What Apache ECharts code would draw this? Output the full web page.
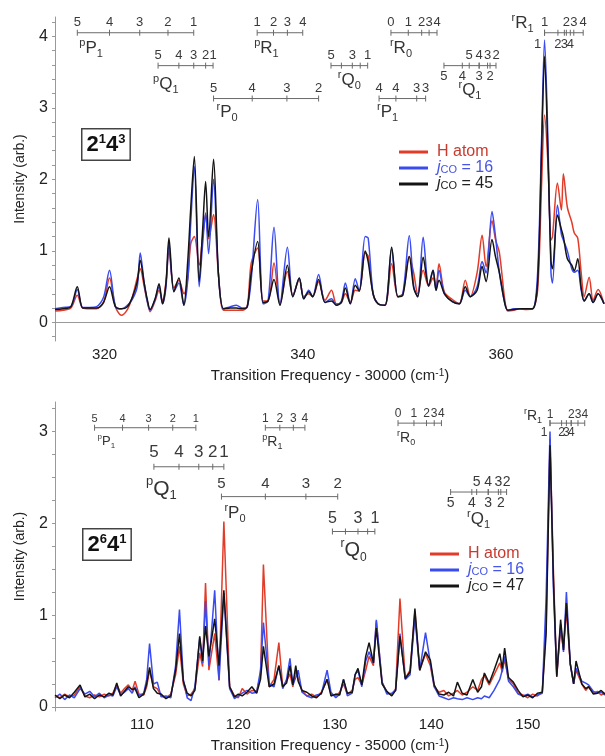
<!DOCTYPE html>
<html><head><meta charset="utf-8">
<script src="https://cdn.jsdelivr.net/npm/echarts@6/dist/echarts.min.js"></script>
<style>html,body{margin:0;padding:0;background:#fff}#c{width:605px;height:756px}</style>
</head><body><div id="c"></div><script>
// ================= DATA =================
// Upper panel (2^1 4^3): frequency - 30000 cm-1
const topFreq = [315.0,315.8,316.6,317.25,317.8,318.5,319.2,319.9,320.5,321.1,
 321.7,322.3,322.8,323.3,323.6,324.0,324.3,324.6,325.1,325.5,
 325.85,326.2,326.5,327.0,327.5,328.0,328.4,328.7,329.06,329.55,
 329.9,330.2,330.5,331.0,331.5,332.0,332.7,333.3,333.9,334.4,
 334.8,335.45,336.0,336.5,337.1,337.7,338.45,339.0,339.65,340.1,
 340.6,341.0,341.6,342.25,342.9,343.4,343.9,344.3,344.8,345.3,
 345.7,346.3,346.6,347.1,347.6,348.3,348.97,349.6,350.1,350.75,
 351.2,351.6,352.15,352.7,353.15,353.45,353.75,354.3,355.1,355.8,
 356.4,356.9,357.6,358.1,358.5,359.1,359.45,359.85,360.4,360.7,
 361.3,361.9,362.6,363.2,363.7,364.1,364.4,364.75,365.05,365.2,
 365.7,366.1,366.3,366.7,367.15,367.4,367.75,368.1,368.4,368.9,
 369.3,369.8,370.4];
const topH = [0.16,0.17,0.20,0.38,0.20,0.19,0.19,0.28,0.62,0.22,
 0.10,0.18,0.35,0.62,0.75,0.50,0.30,0.15,0.30,0.45,
 0.30,0.57,1.00,0.48,0.59,0.40,0.62,1.10,1.20,0.80,
 1.20,1.51,1.17,1.51,0.66,0.17,0.17,0.17,0.17,0.22,
 0.83,1.04,0.30,0.30,0.83,0.26,0.71,0.38,0.60,0.36,
 0.40,0.36,0.57,0.31,0.45,0.26,0.28,0.40,0.28,0.45,
 0.44,0.97,0.93,0.40,0.26,0.24,0.82,0.36,0.40,0.92,
 0.69,0.40,0.73,0.51,0.62,0.50,0.82,0.42,0.32,0.26,
 0.59,0.36,0.70,1.22,0.78,1.42,1.16,0.97,0.30,0.16,
 0.17,0.19,0.18,0.19,0.45,1.92,2.90,2.20,1.15,1.20,
 1.95,1.57,2.08,1.61,1.40,1.25,1.18,0.69,0.36,0.63,
 0.31,0.46,0.26];
const topJ16 = [0.19,0.21,0.22,0.46,0.21,0.21,0.22,0.35,0.73,0.22,
 0.19,0.24,0.32,0.50,0.97,0.55,0.30,0.17,0.32,0.50,
 0.26,0.50,1.10,0.43,0.55,0.24,0.60,1.40,2.18,0.50,
 1.10,1.53,0.96,2.00,0.66,0.19,0.22,0.24,0.20,0.22,
 0.60,1.72,0.26,0.30,1.33,0.24,1.05,0.36,0.62,0.33,
 0.45,0.36,0.67,0.28,0.33,0.24,0.30,0.55,0.26,0.61,
 0.44,1.20,1.18,0.40,0.26,0.24,1.03,0.36,0.40,1.21,
 0.50,0.36,1.19,0.51,0.73,0.45,0.73,0.40,0.29,0.26,
 0.45,0.36,0.50,0.85,0.69,1.55,1.20,0.69,0.26,0.17,
 0.19,0.19,0.19,0.19,0.69,2.55,3.95,2.50,0.69,0.55,
 1.64,1.23,1.15,1.00,0.75,0.70,0.73,0.45,0.30,0.40,
 0.28,0.40,0.26];
const topJ45 = [0.18,0.19,0.22,0.50,0.20,0.20,0.20,0.28,0.50,0.22,
 0.19,0.22,0.35,0.57,0.87,0.55,0.33,0.18,0.33,0.54,
 0.26,0.55,1.18,0.43,0.62,0.24,0.87,1.60,2.32,0.57,
 1.30,1.97,1.20,2.28,0.66,0.19,0.20,0.20,0.19,0.22,
 0.69,1.13,0.28,0.30,0.60,0.24,0.80,0.36,0.62,0.33,
 0.43,0.36,0.60,0.28,0.30,0.24,0.28,0.48,0.26,0.52,
 0.44,1.00,0.85,0.40,0.26,0.24,1.05,0.36,0.38,0.92,
 0.48,0.36,0.91,0.51,0.73,0.45,0.59,0.40,0.29,0.26,
 0.50,0.36,0.45,0.78,0.57,1.16,0.92,0.69,0.26,0.17,
 0.18,0.19,0.19,0.19,0.55,2.40,3.72,2.30,0.85,0.75,
 1.50,1.30,1.20,0.89,0.80,0.72,0.89,0.48,0.30,0.40,
 0.28,0.40,0.26];

// Lower panel (2^6 4^1): frequency - 35000 cm-1
const botFreq = [101.0,101.5,102.0,102.5,103.0,103.6,104.1,104.6,105.1,105.6,
 106.1,106.6,107.0,107.4,107.8,108.2,108.6,109.0,109.3,109.7,
 110.2,110.5,110.8,111.2,111.6,112.0,112.5,113.0,113.5,113.9,
 114.3,114.7,115.1,115.5,116.0,116.3,116.6,116.95,117.55,118.0,
 118.5,119.1,119.6,120.0,120.4,120.9,121.4,121.9,122.3,122.6,
 123.2,123.7,124.2,124.6,125.0,125.35,125.65,125.95,126.2,126.6,
 127.1,127.6,128.1,128.6,129.2,129.6,130.1,130.5,130.9,131.3,
 131.8,132.1,132.4,132.8,133.2,133.55,134.0,134.3,134.9,135.4,
 135.9,136.3,136.75,137.3,137.8,138.3,138.8,139.4,139.9,140.3,
 140.8,141.3,141.8,142.3,142.7,143.2,143.7,144.3,144.8,145.2,
 145.5,146.0,146.5,147.1,147.35,147.6,148.0,148.5,149.0,149.5,
 150.0,150.5,151.0,151.5,151.9,152.3,152.65,153.0,153.4,153.7,
 154.0,154.4,154.75,155.0,155.6,156.0,156.3,156.8,157.2,157.6,
 158.0];
const botH = [0.12,0.10,0.14,0.11,0.13,0.22,0.12,0.10,0.13,0.11,
 0.14,0.12,0.15,0.24,0.15,0.20,0.24,0.18,0.28,0.14,
 0.13,0.22,0.40,0.22,0.20,0.12,0.10,0.14,0.35,0.66,
 0.25,0.12,0.14,0.20,0.59,0.44,1.35,0.40,0.80,0.29,
 2.02,0.22,0.12,0.10,0.20,0.14,0.18,0.17,0.35,1.55,
 0.22,0.30,0.70,0.22,0.28,0.36,0.22,0.40,0.30,0.18,
 0.12,0.14,0.11,0.16,0.30,0.14,0.12,0.16,0.25,0.14,
 0.18,0.30,0.32,0.24,0.40,0.55,0.45,0.93,0.27,0.16,
 0.13,0.20,1.18,0.31,0.40,1.04,0.40,0.58,0.45,0.22,
 0.16,0.18,0.12,0.15,0.18,0.13,0.16,0.22,0.18,0.30,
 0.34,0.24,0.35,0.48,0.38,0.52,0.30,0.25,0.15,0.13,
 0.10,0.14,0.12,0.16,0.90,2.92,1.50,0.33,0.85,0.62,
 1.06,0.47,0.25,0.40,0.25,0.18,0.22,0.15,0.17,0.13,
 0.15];
const botJ16 = [0.10,0.14,0.08,0.13,0.10,0.20,0.14,0.17,0.11,0.15,
 0.10,0.13,0.12,0.22,0.13,0.16,0.20,0.15,0.22,0.12,
 0.15,0.30,0.69,0.25,0.27,0.11,0.12,0.10,0.45,1.06,
 0.30,0.10,0.07,0.22,0.75,0.48,1.15,0.45,1.27,0.29,
 1.24,0.20,0.09,0.12,0.15,0.18,0.15,0.16,0.40,0.92,
 0.25,0.22,0.45,0.20,0.30,0.53,0.24,0.32,0.40,0.16,
 0.12,0.10,0.13,0.14,0.40,0.16,0.10,0.14,0.30,0.12,
 0.15,0.35,0.40,0.22,0.50,0.60,0.48,0.95,0.27,0.14,
 0.15,0.18,0.80,0.30,0.35,0.98,0.40,0.81,0.48,0.22,
 0.12,0.10,0.08,0.10,0.09,0.08,0.10,0.08,0.10,0.09,
 0.12,0.10,0.18,0.30,0.40,0.55,0.28,0.22,0.14,0.12,
 0.14,0.11,0.13,0.15,1.20,3.00,1.30,0.35,0.90,0.60,
 1.25,0.47,0.25,0.42,0.28,0.26,0.24,0.17,0.15,0.16,
 0.13];
const botJ47 = [0.13,0.09,0.13,0.10,0.16,0.24,0.11,0.14,0.09,0.13,
 0.11,0.15,0.13,0.26,0.12,0.17,0.22,0.19,0.20,0.10,
 0.14,0.25,0.43,0.20,0.15,0.14,0.09,0.12,0.40,0.80,
 0.28,0.15,0.12,0.18,0.77,0.50,0.88,0.55,0.96,0.45,
 1.27,0.22,0.11,0.14,0.12,0.16,0.22,0.15,0.30,0.66,
 0.22,0.25,0.45,0.22,0.26,0.45,0.24,0.45,0.28,0.18,
 0.16,0.12,0.10,0.15,0.30,0.12,0.14,0.13,0.30,0.15,
 0.16,0.35,0.42,0.24,0.55,0.70,0.48,0.86,0.25,0.17,
 0.12,0.18,0.77,0.31,0.38,1.07,0.40,0.60,0.51,0.24,
 0.14,0.13,0.16,0.12,0.27,0.15,0.13,0.30,0.16,0.22,
 0.37,0.26,0.40,0.58,0.42,0.64,0.32,0.27,0.18,0.11,
 0.13,0.10,0.15,0.16,0.80,2.85,1.40,0.33,0.95,0.62,
 1.13,0.47,0.25,0.50,0.25,0.20,0.22,0.14,0.15,0.18,
 0.14];

// Axis tick labels
const topXLabels = [320, 340, 360];
const botXLabels = [110, 120, 130, 140, 150];
const topYLabels = [0, 1, 2, 3, 4];
const botYLabels = [0, 1, 2, 3];
const topYTicks = [-0.2,0,0.2,0.4,0.6,0.8,1,1.2,1.4,1.6,1.8,2,2.2,2.4,2.6,2.8,3,3.2,3.4,3.6,3.8,4,4.2];
const botYTicks = [0,0.25,0.5,0.75,1,1.25,1.5,1.75,2,2.25,2.5,2.75,3,3.25];

// Rotational branch assignments (line positions, cm-1 offsets) and their J labels
const T_pP1 = [317.25, 320.5, 323.55, 326.4, 329.0],   T_pP1_J = ['5','4','3','2','1'];
const T_pR1 = [335.4, 337.05, 338.45, 340.0],          T_pR1_J = ['1','2','3','4'];
const T_rR0 = [348.9, 350.65, 352.0, 352.75, 353.55],  T_rR0_J = ['0','1','2','3','4'];
const T_rR1a = [364.4, 366.6, 367.35, 368.3],          T_rR1a_J = ['1','2','3','4'];
const T_rR1b = [364.4, 365.75, 366.4, 367.0],          T_rR1b_J = ['1','2','3','4'];
const T_pQ1 = [325.4, 327.5, 329.0, 330.2, 330.95],    T_pQ1_J = ['5','4','3','2','1'];
const T_rQ0 = [342.85, 343.9, 345.0, 345.8, 346.55],   T_rQ0_J = ['5','','3','','1'];
const T_rQ1a = [356.8, 357.8, 358.65, 359.5],          T_rQ1a_J = ['5','4','3','2'];
const T_rQ1b = [354.25, 356.1, 357.8, 358.9],          T_rQ1b_J = ['5','4','3','2'];
const T_rP0 = [331.0, 334.9, 338.4, 341.6],            T_rP0_J = ['5','4','3','2'];
const T_rP1 = [347.7, 349.4, 351.5, 352.4],            T_rP1_J = ['4','4','3','3'];

const B_pP1 = [105.1, 108.0, 110.7, 113.2, 115.6],     B_pP1_J = ['5','4','3','2','1'];
const B_pR1 = [122.8, 124.3, 125.7, 126.9],            B_pR1_J = ['1','2','3','4'];
const B_rR0 = [136.55, 138.2, 139.5, 140.3, 141.05],   B_rR0_J = ['0','1','2','3','4'];
const B_rR1a = [152.3, 154.5, 155.2, 155.9],           B_rR1a_J = ['1','2','3','4'];
const B_rR1b = [152.3, 153.5, 154.0, 154.5],           B_rR1b_J = ['1','2','3','4'];
const B_pQ1 = [111.25, 113.85, 115.9, 117.35, 118.5],  B_pQ1_J = ['5','4','3','2','1'];
const B_rP0 = [118.25, 122.8, 127.0, 130.3],           B_rP0_J = ['5','4','3','2'];
const B_rQ0 = [129.75, 131.1, 132.4, 133.4, 134.15],   B_rQ0_J = ['5','','3','','1'];
const B_rQ1a = [144.7, 145.9, 146.95, 147.8],          B_rQ1a_J = ['5','4','3','2'];
const B_rQ1b = [142.0, 144.2, 145.9, 147.2],           B_rQ1b_J = ['5','4','3','2'];

// ================= LAYOUT / STYLE =================
const FONT = '"Liberation Sans", Arial, Helvetica, sans-serif';
const INK = '#333', COMB = '#6a6a6a';
const C_H = '#e23b28', C_16 = '#3a4bef', C_K = '#141414';
const T_H = '#c93a2e', T_16 = '#4655e6', T_K = '#222';

function pairs(xs, ys) { return xs.map((x, i) => [x, ys[i]]); }

function nameRich(size) {
  const s = Math.round(size * 0.62);
  return {
    pre: { fontSize: s, fontFamily: FONT, fill: INK, verticalAlign: 'top' },
    main: { fontSize: size, fontFamily: FONT, fill: INK, lineHeight: Math.round(size * 1.3) },
    sub: { fontSize: s, fontFamily: FONT, fill: INK, verticalAlign: 'bottom' }
  };
}

function combSeries(ax, c) {
  return {
    type: 'custom', xAxisIndex: ax, yAxisIndex: ax, silent: true, clip: false, z: 10,
    data: [[c.ticks[0], c.level]],
    renderItem: function (params, api) {
      const ch = [];
      const pts = c.ticks.map(t => api.coord([t, c.level]));
      const y0 = pts[0][1];
      const xs = pts.map(p => p[0]);
      const xmin = Math.min.apply(null, xs), xmax = Math.max.apply(null, xs);
      ch.push({ type: 'line', shape: { x1: xmin, y1: y0, x2: xmax, y2: y0 }, style: { stroke: COMB, lineWidth: 1 } });
      xs.forEach(x => ch.push({ type: 'line', shape: { x1: x, y1: y0 - c.tick, x2: x, y2: y0 + c.tick }, style: { stroke: COMB, lineWidth: 1 } }));
      const nums = (pos, txt, dy, dxs) => pos.forEach((t, i) => {
        if (!txt[i]) return;
        const p = api.coord([t, c.level]);
        ch.push({ type: 'text', x: p[0] + ((dxs && dxs[i]) || 0), y: y0 + dy,
          style: { text: txt[i], fill: '#3a3a3a', font: c.numSize + 'px ' + FONT, align: 'center', verticalAlign: 'middle' } });
      });
      nums(c.top[0], c.top[1], c.topDy, c.topDx);
      if (c.bot) nums(c.bot[0], c.bot[1], c.botDy, c.botDx);
      let nx, al;
      if (c.anchor === 'center') { nx = (xmin + xmax) / 2; al = 'center'; }
      else if (c.anchor === 'end') { nx = xmin; al = 'right'; }
      else { nx = xmin; al = 'left'; }
      nx += c.nameDx || 0;
      ch.push({ type: 'text', x: nx, y: y0 + c.nameDy,
        style: { text: '{pre|' + c.pre + '}{main|' + c.main + '}{sub|' + c.sub + '}', rich: nameRich(c.nameSize), align: al, verticalAlign: 'middle' } });
      return { type: 'group', children: ch };
    }
  };
}

// comb definitions (levels in data units of each panel)
const topCombs = [
  { ticks: T_pP1, top: [T_pP1, T_pP1_J], level: 4.05, pre: 'p', main: 'P', sub: '1', anchor: 'start', nameDx: 2 },
  { ticks: T_pR1, top: [T_pR1, T_pR1_J], level: 4.05, pre: 'p', main: 'R', sub: '1', anchor: 'start', nameDx: -3 },
  { ticks: T_rR0, top: [T_rR0, T_rR0_J], level: 4.05, pre: 'r', main: 'R', sub: '0', anchor: 'start', nameDx: -1 },
  { ticks: T_rR1a.concat(T_rR1b), top: [T_rR1a, T_rR1a_J], bot: [T_rR1b, T_rR1b_J], botDx: [-7, 0, 0, 0], botDy: 12,
    level: 4.05, pre: 'r', main: 'R', sub: '1', anchor: 'end', nameDx: -11, nameDy: -9 },
  { ticks: T_pQ1, top: [T_pQ1, T_pQ1_J], level: 3.59, pre: 'p', main: 'Q', sub: '1', anchor: 'start', nameDx: -5, nameDy: 19 },
  { ticks: T_rQ0, top: [T_rQ0, T_rQ0_J], level: 3.59, pre: 'r', main: 'Q', sub: '0', anchor: 'center', nameDy: 15 },
  { ticks: T_rQ1a.concat(T_rQ1b), top: [T_rQ1a, T_rQ1a_J], bot: [T_rQ1b, T_rQ1b_J], botDy: 11,
    level: 3.59, pre: 'r', main: 'Q', sub: '1', anchor: 'center', nameDy: 25 },
  { ticks: T_rP0, top: [T_rP0, T_rP0_J], level: 3.13, pre: 'r', main: 'P', sub: '0', anchor: 'start', nameDx: 3, nameDy: 14 },
  { ticks: T_rP1, top: [T_rP1, T_rP1_J], level: 3.13, pre: 'r', main: 'P', sub: '1', anchor: 'start', nameDx: -2, nameDy: 14 }
].map(c => Object.assign({ tick: 3, numSize: 13, topDy: -10, nameSize: 17, nameDy: 16 }, c));

const botCombs = [
  { ticks: B_pP1, top: [B_pP1, B_pP1_J], level: 3.04, pre: 'p', main: 'P', sub: '1', anchor: 'start', nameDx: 3, numSize: 11, nameSize: 13, topDy: -9, nameDy: 14 },
  { ticks: B_pR1, top: [B_pR1, B_pR1_J], level: 3.04, pre: 'p', main: 'R', sub: '1', anchor: 'start', nameDx: -3, numSize: 12, nameSize: 14, topDy: -9, nameDy: 14 },
  { ticks: B_rR0, top: [B_rR0, B_rR0_J], level: 3.09, pre: 'r', main: 'R', sub: '0', anchor: 'start', nameDx: -1, numSize: 12, nameSize: 14, topDy: -9, nameDy: 15 },
  { ticks: B_rR1a.concat(B_rR1b), top: [B_rR1a, B_rR1a_J], bot: [B_rR1b, B_rR1b_J], botDx: [-6, 0, 0, 0], botDy: 10,
    level: 3.09, pre: 'r', main: 'R', sub: '1', anchor: 'end', nameDx: -8, nameDy: -7, numSize: 12, nameSize: 14, topDy: -8 },
  { ticks: B_pQ1, top: [B_pQ1, B_pQ1_J], level: 2.615, pre: 'p', main: 'Q', sub: '1', anchor: 'start', nameDx: -8, numSize: 17, nameSize: 21, topDy: -14, nameDy: 22 },
  { ticks: B_rP0, top: [B_rP0, B_rP0_J], level: 2.29, pre: 'r', main: 'P', sub: '0', anchor: 'start', nameDx: 3, numSize: 15, nameSize: 17, topDy: -13, nameDy: 17 },
  { ticks: B_rQ0, top: [B_rQ0, B_rQ0_J], level: 1.91, pre: 'r', main: 'Q', sub: '0', anchor: 'center', numSize: 16, nameSize: 20, topDy: -13, nameDy: 19 },
  { ticks: B_rQ1a.concat(B_rQ1b), top: [B_rQ1a, B_rQ1a_J], bot: [B_rQ1b, B_rQ1b_J], botDy: 11,
    level: 2.34, pre: 'r', main: 'Q', sub: '1', anchor: 'center', numSize: 14, nameSize: 17, topDy: -10, nameDy: 27 }
].map(c => Object.assign({ tick: 3 }, c));

function legendRich() {
  const r = {};
  [['h', T_H], ['b', T_16], ['k', T_K]].forEach(([k, col]) => {
    r[k + 'n'] = { color: col, fontSize: 16, fontFamily: FONT, lineHeight: 15 };
    r[k + 'j'] = { color: col, fontSize: 16, fontFamily: FONT, fontStyle: 'italic', lineHeight: 15 };
    r[k + 'c'] = { color: col, fontSize: 11, fontFamily: FONT, verticalAlign: 'bottom', lineHeight: 12 };
    r[k + 'e'] = { color: col, fontSize: 16, fontFamily: FONT, lineHeight: 15 };
  });
  return r;
}
function legendFmt(name) {
  if (name === 'H atom') return '{hn|H atom}';
  const k = name.indexOf('16') >= 0 ? 'b' : 'k';
  const num = name.split('= ')[1];
  return '{' + k + 'j|j}{' + k + 'c|CO}{' + k + 'e| = ' + num + '}';
}
function mkLegend(left, top, names) {
  return { left: left, top: top, orient: 'vertical', icon: 'rect', itemWidth: 29, itemHeight: 3, itemGap: 0,
    selectedMode: false, data: names, formatter: legendFmt, padding: 0,
    textStyle: { fontSize: 16, lineHeight: 15, fontFamily: FONT, padding: [0, 0, 0, 4], rich: legendRich() } };
}

function boxText(left, top, a, b, c, d) {
  return { type: 'text', left: left, top: top, z: 20,
    style: { text: '{b|' + a + '}{s|' + b + '}{b|' + c + '}{s|' + d + '}',
      rich: { b: { fontSize: 22, fontWeight: 'bold', fontFamily: FONT, fill: '#111', lineHeight: 25 },
              s: { fontSize: 13, fontWeight: 'bold', fontFamily: FONT, fill: '#111', verticalAlign: 'top' } },
      borderColor: '#444', borderWidth: 1.5, padding: [3, 4, 2, 4], backgroundColor: '#fff' } };
}

const axisLineStyle = { lineStyle: { color: '#999', width: 1 } };
function xAxis(grid, min, max, labels, name) {
  return { type: 'value', gridIndex: grid, min: min, max: max, splitLine: { show: false },
    axisLine: axisLineStyle, axisTick: { show: false },
    axisLabel: { customValues: labels, fontSize: 15, color: '#222', fontFamily: FONT, margin: 6 },
    name: name, nameLocation: 'middle', nameGap: 27,
    nameTextStyle: { fontSize: 15, color: '#222', fontFamily: FONT, rich: { sup: { fontSize: 10, color: '#222', fontFamily: FONT, verticalAlign: 'top' } } } };
}
function yAxis(grid, min, max, labels, ticks) {
  return { type: 'value', gridIndex: grid, min: min, max: max, splitLine: { show: false },
    axisLine: { show: true, lineStyle: { color: '#999', width: 1 } },
    axisTick: { show: true, customValues: ticks, length: 3, lineStyle: { color: '#999' } },
    axisLabel: { customValues: labels, fontSize: 16, color: '#222', fontFamily: FONT, margin: 7 },
    name: 'Intensity (arb.)', nameLocation: 'middle', nameGap: 28,
    nameTextStyle: { fontSize: 14, color: '#222', fontFamily: FONT } };
}
function spec(name, data, color, ax, smooth) {
  return { type: 'line', name: name, data: data, xAxisIndex: ax, yAxisIndex: ax, showSymbol: false, symbol: 'none',
    smooth: smooth, lineStyle: { color: color, width: 1.5 }, itemStyle: { color: color }, z: 3 };
}

const chart = echarts.init(document.getElementById('c'), null, { renderer: 'canvas' });
chart.setOption({
  animation: false,
  backgroundColor: '#fff',
  grid: [
    { left: 55, right: 0, top: 17, height: 324 },
    { left: 55, right: 0, top: 402, height: 309 }
  ],
  xAxis: [
    xAxis(0, 315, 370.5, topXLabels, 'Transition Frequency - 30000 (cm{sup|-1})'),
    xAxis(1, 101, 158, botXLabels, 'Transition Frequency - 35000 (cm{sup|-1})')
  ],
  yAxis: [
    yAxis(0, -0.26, 4.27, topYLabels, topYTicks),
    yAxis(1, -0.044, 3.32, botYLabels, botYTicks)
  ],
  legend: [
    mkLegend(399, 144, ['H atom', 'jCO = 16', 'jCO = 45']),
    mkLegend(430, 546, ['H atom', 'jCO = 16', 'jCO = 47'])
  ],
  graphic: [ boxText(81, 128, '2', '1', '4', '3'), boxText(82, 528, '2', '6', '4', '1') ],
  series: [
    spec('H atom', pairs(topFreq, topH), C_H, 0, 0.3),
    spec('jCO = 16', pairs(topFreq, topJ16), C_16, 0, 0.3),
    spec('jCO = 45', pairs(topFreq, topJ45), C_K, 0, 0.3),
    spec('H atom', pairs(botFreq, botH), C_H, 1, false),
    spec('jCO = 16', pairs(botFreq, botJ16), C_16, 1, false),
    spec('jCO = 47', pairs(botFreq, botJ47), C_K, 1, false)
  ].concat(topCombs.map(c => combSeries(0, c)), botCombs.map(c => combSeries(1, c)))
});
</script></body></html>
